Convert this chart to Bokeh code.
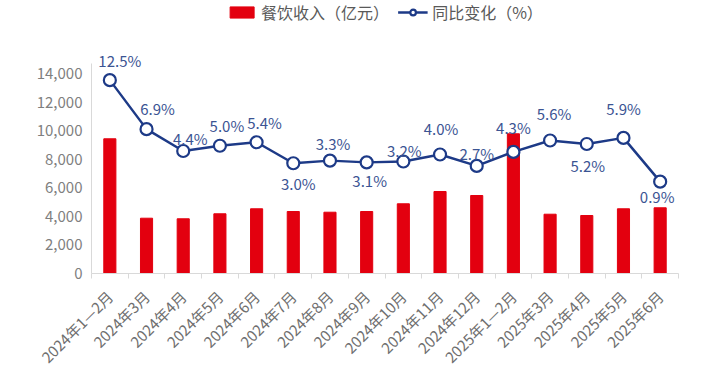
from math import pi
from bokeh.plotting import figure
from bokeh.models import (FactorRange, Range1d, LinearAxis, FixedTicker, CustomJSTickFormatter,
                          NumeralTickFormatter, Legend, LegendItem, ColumnDataSource)
from bokeh.core.properties import value
from bokeh.embed import file_html
from bokeh.resources import INLINE

months = ["2024年1—2月", "2024年3月", "2024年4月", "2024年5月", "2024年6月", "2024年7月",
          "2024年8月", "2024年9月", "2024年10月", "2024年11月", "2024年12月",
          "2025年1—2月", "2025年3月", "2025年4月", "2025年5月", "2025年6月"]
revenue = [9430, 3870, 3830, 4180, 4530, 4340, 4290, 4340, 4880, 5740, 5460, 9780, 4150, 4060, 4530, 4600]
yoy = [12.5, 6.9, 4.4, 5.0, 5.4, 3.0, 3.3, 3.1, 3.2, 4.0, 2.7, 4.3, 5.6, 5.2, 5.9, 0.9]
y_ticks = [0, 2000, 4000, 6000, 8000, 10000, 12000, 14000]

# label placement (style): pixel offsets of each data label
label_dx = [10, 11, 7, 7, 8, 5, 3, 3, 1, 1, 0, 0, 4, 1, 0, -3]
label_dy = [-20, -21, -13, -20, -20, 20, -17, 18, -11, -26, -12, -24, -27, 21, -29, 15]

FONT = "Noto Sans CJK SC"
RED = "#e3000f"
NAVY = "#1d3a87"

src = ColumnDataSource(dict(
    x=months, rev=revenue, yoy=yoy,
    lbl=[f"{v:.1f}%" for v in yoy], dx=label_dx, dy=label_dy,
))

p = figure(width=704, height=378, x_range=FactorRange(*months), y_range=Range1d(0, 19110),
           x_axis_type=None, output_backend="svg", toolbar_location=None,
           min_border_left=91, min_border_right=26, min_border_top=0, min_border_bottom=105)
p.extra_y_ranges = {"yoy": Range1d(-9.6, 21.6)}
p.outline_line_color = None
p.xgrid.visible = False
p.ygrid.visible = False

bars = p.vbar(x="x", top="rev", width=0.33, color=RED, source=src)
ln = p.line(x="x", y="yoy", y_range_name="yoy", line_color=NAVY, line_width=2.5, source=src)
pts = p.scatter(x="x", y="yoy", y_range_name="yoy", size=12, fill_color="white",
                line_color=NAVY, line_width=2.2, source=src)
p.text(x="x", y="yoy", text="lbl", y_range_name="yoy", x_offset="dx", y_offset="dy",
       text_align="center", text_baseline="middle", text_font=value(FONT),
       text_font_size="15px", text_color="#3b5493", source=src)

# y axis
ya = p.yaxis[0]
ya.ticker = FixedTicker(ticks=y_ticks)
ya.formatter = NumeralTickFormatter(format="0,0")
ya.bounds = (0, 14700)
ya.axis_line_color = "#d9d9d9"
ya.major_tick_line_color = None
ya.major_tick_out = 0
ya.major_tick_in = 0
ya.minor_tick_line_color = None
ya.major_label_text_font = FONT
ya.major_label_text_font_size = "15px"
ya.major_label_text_color = "#7f7f7f"
ya.major_label_standoff = 9

# x axis with ticks at category boundaries
xa = LinearAxis(
    ticker=FixedTicker(ticks=[i + 0.5 for i in range(len(months))],
                       minor_ticks=list(range(len(months) + 1))),
    formatter=CustomJSTickFormatter(args=dict(labels=months),
                                    code="const i = Math.round(tick - 0.5); return labels[i] || '';"),
)
xa.axis_line_color = "#d9d9d9"
xa.major_tick_line_color = None
xa.minor_tick_line_color = "#d9d9d9"
xa.minor_tick_in = 0
xa.minor_tick_out = 5
xa.major_label_orientation = pi / 4
xa.major_label_text_font = FONT
xa.major_label_text_font_size = "15px"
xa.major_label_text_color = "#6e6e6e"
xa.major_label_standoff = 14
p.add_layout(xa, "below")

legend = Legend(items=[LegendItem(label="餐饮收入（亿元）", renderers=[bars]),
                       LegendItem(label="同比变化（%）", renderers=[ln, pts])],
                location="top_center", orientation="horizontal",
                border_line_color=None, background_fill_alpha=0,
                padding=0, margin=0, spacing=8, glyph_width=30, glyph_height=14,
                label_height=14,
                label_text_font=FONT, label_text_font_size="16px",
                label_text_color="#595959", label_standoff=5)
p.add_layout(legend, "center")

open("out.html", "w").write(file_html(p, INLINE))
